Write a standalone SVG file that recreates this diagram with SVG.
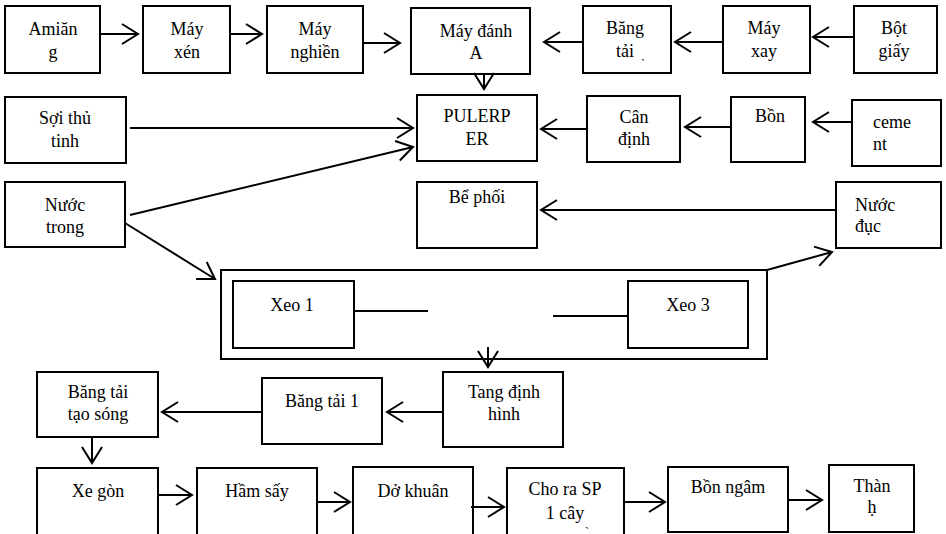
<svg xmlns="http://www.w3.org/2000/svg" width="946" height="534" viewBox="0 0 946 534" font-family="Liberation Serif, Times New Roman, serif">
<defs>
<marker id="arr" markerUnits="userSpaceOnUse" markerWidth="20" markerHeight="24" refX="16" refY="10" orient="auto" overflow="visible">
<path d="M0,0 L16,10 L0,20" fill="none" stroke="#000" stroke-width="2"/>
</marker>
<style>
rect{fill:#fff;stroke:#000;stroke-width:2}
text{font-family:'Liberation Serif',serif;font-size:18px;fill:#000;text-anchor:middle}
.l{text-anchor:start}
.c line{stroke:#000;stroke-width:2;fill:none}
.c .a{marker-end:url(#arr)}
.sm{font-size:12px}
</style>
</defs>
<rect x="0" y="0" width="946" height="534" style="stroke:none;fill:#fff"/>

<g id="xeo-group">
<rect x="221" y="270" width="546" height="89"/>
</g>

<g id="n-amiang"><rect x="5" y="6" width="95" height="67"/><text x="53" y="35">Amiăn</text><text x="53" y="58">g</text></g>
<g id="n-mayxen"><rect x="143" y="6" width="87" height="67"/><text x="187" y="35">Máy</text><text x="187" y="58">xén</text></g>
<g id="n-maynghien"><rect x="267" y="6" width="96" height="67"/><text x="315" y="35">Máy</text><text x="315" y="58">nghiền</text></g>
<g id="n-maydanh"><rect x="411" y="8" width="119" height="66"/><text x="476" y="37">Máy đánh</text><text x="476" y="59">A</text></g>
<g id="n-bangtai"><rect x="583" y="6" width="88" height="67"/><text x="625" y="34">Băng</text><text x="625" y="57">tải</text><text x="643" y="68" class="sm">ˋ</text></g>
<g id="n-mayxay"><rect x="723" y="6" width="87" height="67"/><text x="764" y="34">Máy</text><text x="764" y="57">xay</text></g>
<g id="n-botgiay"><rect x="854" y="6" width="83" height="67"/><text x="894" y="34">Bột</text><text x="894" y="57">giấy</text></g>

<g id="n-soi"><rect x="5" y="97" width="121" height="66"/><text x="65" y="124">Sợi thủ</text><text x="65" y="147">tinh</text></g>
<g id="n-pulerper"><rect x="417" y="95" width="120" height="66"/><text x="477" y="122">PULERP</text><text x="477" y="145">ER</text></g>
<g id="n-candinh"><rect x="587" y="96" width="93" height="66"/><text x="634" y="123">Cân</text><text x="634" y="145">định</text></g>
<g id="n-bon"><rect x="731" y="97" width="74" height="65"/><text x="770" y="122">Bồn</text></g>
<g id="n-cement"><rect x="852" y="100" width="89" height="66"/><text x="873" y="128" class="l">ceme</text><text x="873" y="150" class="l">nt</text></g>

<g id="n-nuoctrong"><rect x="5" y="182" width="120" height="65"/><text x="65" y="211">Nước</text><text x="65" y="233">trong</text></g>
<g id="n-bephoi"><rect x="417" y="182" width="120" height="66"/><text x="477" y="203">Bể phối</text></g>
<g id="n-nuocduc"><rect x="836" y="182" width="105" height="66"/><text x="855" y="211" class="l">Nước</text><text x="855" y="232" class="l">đục</text></g>

<g id="n-xeo1"><rect x="233" y="281" width="121" height="67"/><text x="292" y="311">Xeo 1</text></g>
<g id="n-xeo3"><rect x="628" y="281" width="120" height="67"/><text x="688" y="311">Xeo 3</text></g>

<g id="n-bttaosong"><rect x="37" y="372" width="121" height="65"/><text x="98" y="398">Băng tải</text><text x="98" y="420">tạo sóng</text></g>
<g id="n-bangtai1"><rect x="262" y="378" width="120" height="66"/><text x="322" y="407">Băng tải 1</text></g>
<g id="n-tang"><rect x="443" y="372" width="120" height="75"/><text x="504" y="398">Tang định</text><text x="504" y="420">hình</text></g>

<g id="n-xegon"><rect x="37" y="468" width="121" height="72"/><text x="98" y="497">Xe gòn</text></g>
<g id="n-hamsay"><rect x="197" y="468" width="120" height="72"/><text x="257" y="497">Hầm sấy</text></g>
<g id="n-dokhuan"><rect x="353" y="467" width="120" height="73"/><text x="413" y="497">Dở khuân</text></g>
<g id="n-chora"><rect x="507" y="468" width="117" height="72"/><text x="565" y="495">Cho ra SP</text><text x="565" y="519">1 cây</text><text x="587" y="526" class="sm">ˏ</text></g>
<g id="n-bonngam"><rect x="668" y="467" width="120" height="65"/><text x="728" y="493">Bồn ngâm</text></g>
<g id="n-thanh"><rect x="829" y="465" width="85" height="67"/><text x="872" y="492">Thàn</text><text x="872" y="513">ḥ</text></g>

<g id="connectors" class="c">
<line class="a" x1="100" y1="34" x2="138" y2="34"/>
<line class="a" x1="230" y1="34" x2="262" y2="34"/>
<line class="a" x1="363" y1="43" x2="400" y2="43"/>
<line class="a" x1="583" y1="42" x2="544" y2="42"/>
<line class="a" x1="723" y1="42" x2="675" y2="42"/>
<line class="a" x1="854" y1="37" x2="813" y2="37"/>
<line class="a" x1="484" y1="74" x2="484" y2="89"/>
<line class="a" x1="130" y1="128" x2="413" y2="128"/>
<line class="a" x1="130" y1="215" x2="413" y2="147"/>
<line class="a" x1="587" y1="129" x2="541" y2="129"/>
<line class="a" x1="731" y1="127" x2="685" y2="127"/>
<line class="a" x1="852" y1="122" x2="813" y2="122"/>
<line class="a" x1="836" y1="210" x2="541" y2="210"/>
<line class="a" x1="125" y1="223" x2="215" y2="279"/>
<line class="a" x1="767" y1="270" x2="832" y2="252"/>
<line x1="354" y1="311" x2="428" y2="311"/>
<line x1="553" y1="316" x2="628" y2="316"/>
<line class="a" x1="488" y1="347" x2="488" y2="367"/>
<line class="a" x1="443" y1="412" x2="387" y2="412"/>
<line class="a" x1="262" y1="412" x2="162" y2="412"/>
<line class="a" x1="92" y1="437" x2="92" y2="463"/>
<line class="a" x1="158" y1="495" x2="192" y2="495"/>
<line class="a" x1="317" y1="502" x2="350" y2="502"/>
<line class="a" x1="471" y1="507" x2="504" y2="507"/>
<line class="a" x1="624" y1="502" x2="665" y2="502"/>
<line class="a" x1="788" y1="500" x2="822" y2="500"/>
</g>
</svg>
